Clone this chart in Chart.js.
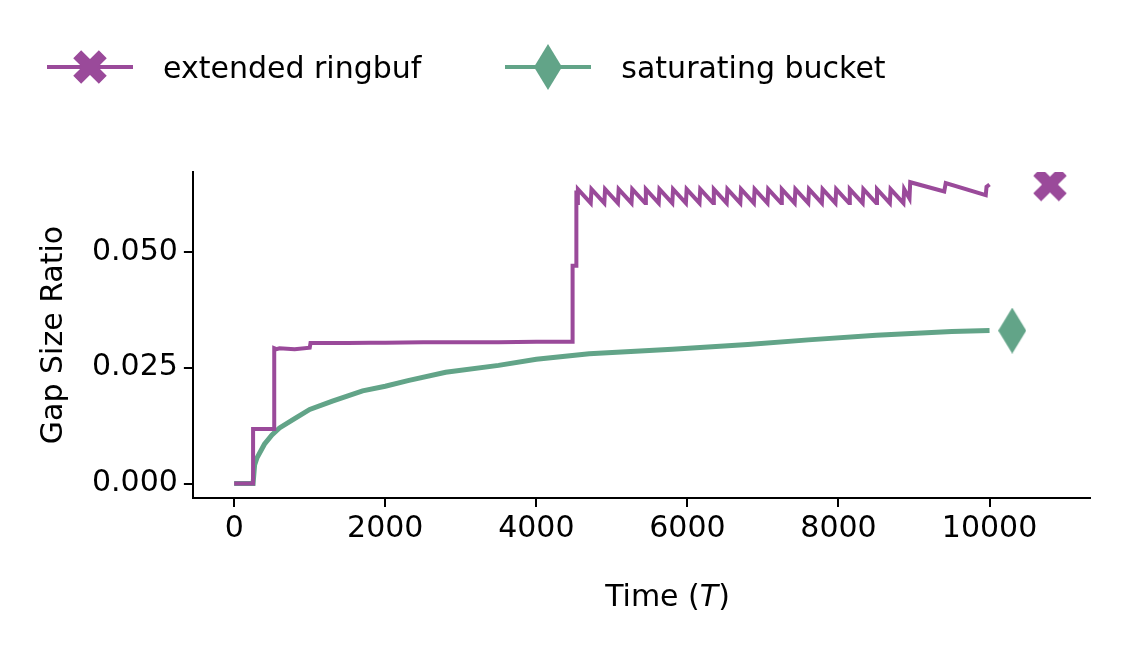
<!DOCTYPE html>
<html><head><meta charset="utf-8">
<script src="https://cdn.jsdelivr.net/npm/chart.js@4"></script>
<style>
body{margin:0;background:#fff;font-family:"DejaVu Sans",sans-serif;}
#wrap{position:relative;width:1135px;height:651px;}
#legend{position:absolute;top:42px;left:45px;font-size:30px;color:#000;display:flex;align-items:center;}
.item{display:flex;align-items:center;}
.item canvas{margin-right:28px;}
#xtitle{position:absolute;top:578px;left:0;width:1335px;text-align:center;font-size:30px;color:#000;}
</style></head><body>
<div id="wrap">
<div id="legend">
 <div class="item" style="margin-right:82px"><canvas id="lg1" width="90" height="50"></canvas>extended ringbuf</div>
 <div class="item"><canvas id="lg2" width="90" height="50"></canvas>saturating bucket</div>
</div>
<canvas id="c" width="1135" height="651"></canvas>
<div id="xtitle">Time (<i>T</i>)</div>
</div>
<script>
const PURPLE = "#9a4a9a", GREEN = "#62a488";

const ringbufT = [0,250,250,530,530,560,600,800,1000,1010,1500,1800,2000,2500,3000,3500,4000,4450,4480,4480,4530,4530,
 4540,4550,4720,4730,4900,4910,5080,5090,5260,5270,5440,5450,5620,5630,5800,5810,5980,5990,6160,6170,6340,6350,6520,6530,
 6700,6710,6880,6890,7060,7070,7240,7250,7420,7430,7600,7610,7780,7790,7960,7970,8140,8150,8320,8330,8500,8510,8680,8690,
 8860,8870,8940,8950,9400,9420,9950,9960,10000];
const ringbufY = [0,0,0.0118,0.0118,0.0292,0.0290,0.0292,0.0290,0.0293,0.0303,0.0303,0.0304,0.0304,0.0305,0.0305,0.0305,0.0306,0.0306,0.0306,0.047,0.047,0.0632,
 0.0605,0.0635,0.0605,0.0635,0.0605,0.0635,0.0605,0.0635,0.0605,0.0635,0.0605,0.0635,0.0605,0.0635,0.0605,0.0635,0.0605,0.0635,0.0605,0.0635,0.0605,0.0635,0.0605,0.0635,
 0.0605,0.0635,0.0605,0.0635,0.0605,0.0635,0.0605,0.0635,0.0605,0.0635,0.0605,0.0635,0.0605,0.0635,0.0605,0.0635,0.0605,0.0635,0.0605,0.0635,0.0605,0.0635,0.0605,0.0635,
 0.0605,0.0635,0.0615,0.0650,0.0630,0.0648,0.0622,0.0640,0.0645];
const bucketT = [0,250,270,300,400,500,600,800,1000,1300,1700,2000,2300,2800,3500,4000,4700,5800,6800,7600,8500,9500,10000];
const bucketY = [0,0,0.0040,0.0055,0.0085,0.0105,0.0120,0.0140,0.0160,0.0178,0.0200,0.0210,0.0222,0.0240,0.0255,0.0268,0.0280,0.0290,0.0300,0.0310,0.0320,0.0328,0.0330];
const xTicks = [0,2000,4000,6000,8000,10000];
const yTicks = [0,0.025,0.05];

function markerX(size){
  const c=document.createElement("canvas");c.width=c.height=size;const g=c.getContext("2d");
  g.strokeStyle=PURPLE;g.lineWidth=size*0.28;g.lineCap="butt";
  const m=size*0.18;g.beginPath();g.moveTo(m,m);g.lineTo(size-m,size-m);g.moveTo(size-m,m);g.lineTo(m,size-m);g.stroke();return c;
}
function markerD(w,h){
  const c=document.createElement("canvas");c.width=w;c.height=h;const g=c.getContext("2d");
  g.fillStyle=GREEN;g.beginPath();g.moveTo(w/2,0);g.lineTo(w,h/2);g.lineTo(w/2,h);g.lineTo(0,h/2);g.closePath();g.fill();return c;
}
function legendIcon(id,color,img){
  const g=document.getElementById(id).getContext("2d");
  g.strokeStyle=color;g.lineWidth=4;g.beginPath();g.moveTo(2,25);g.lineTo(88,25);g.stroke();
  g.drawImage(img,45-img.width/2,25-img.height/2);
}
legendIcon("lg1",PURPLE,markerX(40));
legendIcon("lg2",GREEN,markerD(28,46));

const tickFont = {size:30,family:"DejaVu Sans"};
new Chart(document.getElementById("c"),{
  type:"scatter",
  data:{datasets:[
    {data:ringbufT.map((t,i)=>({x:t,y:ringbufY[i]})),showLine:true,borderColor:PURPLE,borderWidth:4,pointRadius:0,tension:0},
    {data:bucketT.map((t,i)=>({x:t,y:bucketY[i]})),showLine:true,borderColor:GREEN,borderWidth:5,pointRadius:0,tension:0},
    {data:[{x:10800,y:0.0645}],pointStyle:markerX(40),pointRadius:20},
    {data:[{x:10300,y:0.033}],pointStyle:markerD(28,46),pointRadius:20}
  ]},
  options:{
    responsive:false,animation:false,
    layout:{padding:{left:32,right:45,top:172,bottom:100}},
    plugins:{legend:{display:false},tooltip:{enabled:false}},
    scales:{
      x:{type:"linear",min:-547,max:11330,
        afterBuildTicks:a=>{a.ticks=xTicks.map(v=>({value:v}));},
        grid:{display:true,drawOnChartArea:false,drawTicks:true,tickLength:9,color:"#000",lineWidth:2},
        border:{color:"#000",width:2},
        ticks:{color:"#000",font:tickFont,padding:4,maxRotation:0,callback:v=>String(v)}},
      y:{min:-0.0031,max:0.0672,
        afterBuildTicks:a=>{a.ticks=yTicks.map(v=>({value:v}));},
        grid:{display:true,drawOnChartArea:false,drawTicks:true,tickLength:9,color:"#000",lineWidth:2},
        border:{color:"#000",width:2},
        ticks:{color:"#000",font:tickFont,padding:6,callback:v=>v.toFixed(3)},
        title:{display:true,text:"Gap Size Ratio",color:"#000",font:tickFont,padding:{bottom:14}}}
    }
  }
});
</script>
</body></html>
